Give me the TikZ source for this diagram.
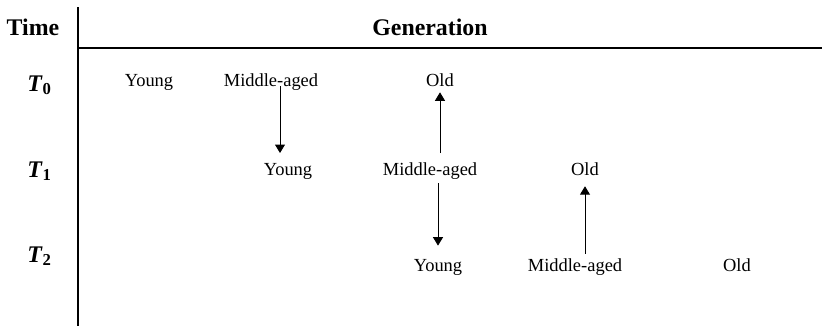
\documentclass[tikz,border=0pt]{standalone}
\usepackage{fontspec}
\setmainfont{Liberation Serif}
\usetikzlibrary{arrows.meta}
\tikzstyle{gen}=[inner sep=0pt,anchor=base,font=\fontsize{12}{14}\selectfont,text height=8.5pt,text depth=2.6pt]
\tikzstyle{head}=[inner sep=0pt,anchor=base,font=\fontsize{15.5}{18}\selectfont\bfseries]
\tikzstyle{time}=[inner sep=0pt,anchor=base west,font=\fontsize{15.5}{18}\selectfont\bfseries]
\tikzstyle{move}=[-{Triangle[width=6.5pt,length=5.5pt]},line width=0.6pt]
\newcommand{\tlab}[1]{\textit{T}\textsubscript{#1}}

\begin{document}
\begin{tikzpicture}[x=0.65pt,y=-0.65pt]
\useasboundingbox (0,0) rectangle (822,326);
% frame of the table
\draw[line width=0.7pt] (78,7) -- (78,326);
\draw[line width=0.7pt] (78,48) -- (822,48);
\node[head] (time) at (33,35)  {Time};
\node[head] (gen)  at (430,35) {Generation};
\node[time] (t_0)  at (27,91)  {\tlab{0}};
\node[time] (t_1)  at (27,177) {\tlab{1}};
\node[time] (t_2)  at (27,262) {\tlab{2}};
% row T0
\node[gen] (yg0) at (149,86) {Young};
\node[gen] (ma0) at (271,86) {Middle-aged};
\node[gen] (od0) at (440,86) {Old};
% row T1
\node[gen] (yg1) at (288,175) {Young};
\node[gen] (ma1) at (430,175) {Middle-aged};
\node[gen] (od1) at (585,175) {Old};
% row T2
\node[gen] (yg2) at (438,271) {Young};
\node[gen] (ma2) at (575,271) {Middle-aged};
\node[gen] (od2) at (737,271) {Old};
\coordinate (drop) at (280,0);
% transitions
\draw[move,shorten >=5.6pt] (ma0.base -| drop) -- (yg1.north -| drop);
\draw[move,shorten <=5.6pt,shorten >=1.3pt] (ma1.north -| od0) -- (od0.south);
\draw[move,shorten <=2.6pt,shorten >=7.8pt] (ma1.south -| yg2) -- (yg2.north);
\draw[move,shorten <=2.6pt,shorten >=4.5pt] (ma2.north -| od1) -- (od1.south);
\end{tikzpicture}
\end{document}
